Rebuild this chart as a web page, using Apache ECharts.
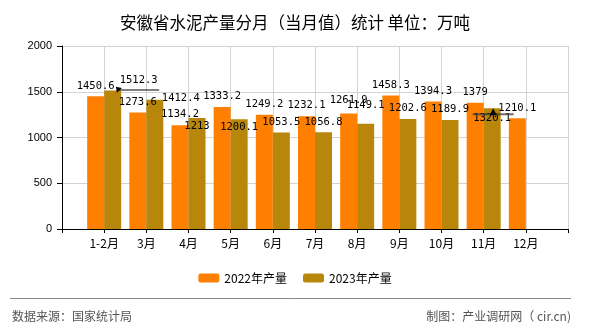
<!DOCTYPE html>
<html>
<head>
<meta charset="utf-8">
<script src="https://cdn.jsdelivr.net/npm/echarts@6/dist/echarts.min.js"></script>
<style>
  html, body { margin: 0; padding: 0; background: #fff; }
  #chart { width: 590px; height: 330px; }
</style>
</head>
<body>
<div id="chart"></div>
<script>
// Monthly cement output, Anhui province (10k tonnes)
const months = ['1-2月', '3月', '4月', '5月', '6月', '7月', '8月', '9月', '10月', '11月', '12月'];
const output2022 = [1450.6, 1273.6, 1134.2, 1333.2, 1249.2, 1232.1, 1261.9, 1458.3, 1394.3, 1379, 1210.1];
const output2023 = [1512.3, 1412.4, 1213, 1200.1, 1053.5, 1056.8, 1149.1, 1202.6, 1189.9, 1320.1];
const yTicks = [0, 500, 1000, 1500, 2000];

// label nudges so neighbouring values don't collide
const labelShift2022 = [[0, 0], [0, 0], [0, 0], [0, 0], [0, 0], [0, 0], [0, -3], [0, 0], [0, 0], [0, 0], [0, 0]];
const labelShift2023 = [[26, 0], [26, 9], [0, 19], [0, 19], [0, 0], [0, 0], [0, -8], [0, 0], [0, 0], [0, 21]];

const FONT = '"Noto Sans CJK SC", "Liberation Sans", sans-serif';
const NUMFONT = '"DejaVu Sans Mono", "Liberation Mono", monospace';

// an empty slot on each side of the months
const axisCats = [''].concat(months, ['']);
const build = (arr, shifts) => ['-'].concat(months.map((m, i) => {
  if (i >= arr.length) return '-';
  const s = shifts[i];
  if (!s || (s[0] === 0 && s[1] === 0)) return arr[i];
  return { value: arr[i], label: { offset: s } };
}), ['-']);

const chart = echarts.init(document.getElementById('chart'), null, { renderer: 'canvas' });
chart.setOption({
  animation: false,
  backgroundColor: '#fff',
  title: {
    text: '安徽省水泥产量分月（当月值）统计 单位：万吨',
    left: 'center',
    top: 9,
    textStyle: { fontFamily: FONT, fontSize: 16.5, fontWeight: 'normal', color: '#000' }
  },
  legend: {
    data: ['2022年产量', '2023年产量'],
    left: 'center',
    top: 267,
    itemWidth: 21,
    itemHeight: 9,
    itemGap: 16,
    textStyle: { fontFamily: FONT, fontSize: 12, color: '#000' }
  },
  grid: { left: 62, right: 22, top: 46, bottom: 101, containLabel: false },
  xAxis: {
    type: 'category',
    data: axisCats,
    boundaryGap: false,
    axisLine: { lineStyle: { color: '#000', width: 1 } },
    axisTick: { show: true, length: 4, interval: 0, lineStyle: { color: '#000' } },
    axisLabel: { interval: 0, margin: 8, fontFamily: FONT, fontSize: 12, color: '#000' },
    splitLine: { show: true, interval: 0, lineStyle: { color: '#d3d3d3', width: 1 } }
  },
  yAxis: {
    type: 'value',
    min: yTicks[0],
    max: yTicks[yTicks.length - 1],
    interval: yTicks[1] - yTicks[0],
    axisLine: { show: true, lineStyle: { color: '#000', width: 1 } },
    axisTick: { show: true, length: 5, lineStyle: { color: '#000' } },
    axisLabel: {
      margin: 10, fontFamily: '"Liberation Sans", sans-serif', fontSize: 11, color: '#000',
      formatter: (v) => String(v)
    },
    splitLine: { show: true, lineStyle: { color: '#d3d3d3', width: 1 } }
  },
  series: [
    {
      name: '2022年产量',
      type: 'bar',
      data: build(output2022, labelShift2022),
      barWidth: 17,
      barGap: '0%',
      itemStyle: { color: '#FF8000' },
      label: {
        show: true, position: 'top', distance: 5,
        fontFamily: NUMFONT, fontSize: 10.5, color: '#000'
      }
    },
    {
      name: '2023年产量',
      type: 'bar',
      data: build(output2023, labelShift2023),
      barWidth: 17,
      barGap: '0%',
      itemStyle: { color: '#B8860B' },
      label: {
        show: true, position: 'top', distance: 5,
        fontFamily: NUMFONT, fontSize: 10.5, color: '#000'
      },
      markPoint: {
        silent: true,
        label: { show: false },
        data: [
          { coord: [months[0], output2023[0]], symbol: 'rect', symbolSize: [41, 1], symbolOffset: [26, -0.5], itemStyle: { color: '#000' } },
          { coord: [months[0], output2023[0]], symbol: 'triangle', symbolSize: [7, 5], symbolRotate: 45, symbolOffset: [5, -2], itemStyle: { color: '#000' } },
          { coord: [months[9], output2023[9]], symbol: 'rect', symbolSize: [41, 2], symbolOffset: [1, 6], itemStyle: { color: 'rgba(60,60,60,0.75)' } },
          { coord: [months[9], output2023[9]], symbol: 'triangle', symbolSize: [7, 7], symbolOffset: [1, 3.5], itemStyle: { color: '#000' } }
        ]
      }
    }
  ],
  graphic: [
    { type: 'line', shape: { x1: 10, y1: 298.5, x2: 571, y2: 298.5 }, style: { stroke: '#888', lineWidth: 1 } },
    { type: 'text', left: 12, top: 310, style: { text: '数据来源：国家统计局', font: '12px ' + FONT, fill: '#555' } },
    { type: 'text', right: 19, top: 310, style: { text: '制图：产业调研网（ cir.cn)', font: '12px ' + FONT, fill: '#555' } }
  ]
});
</script>
</body>
</html>
